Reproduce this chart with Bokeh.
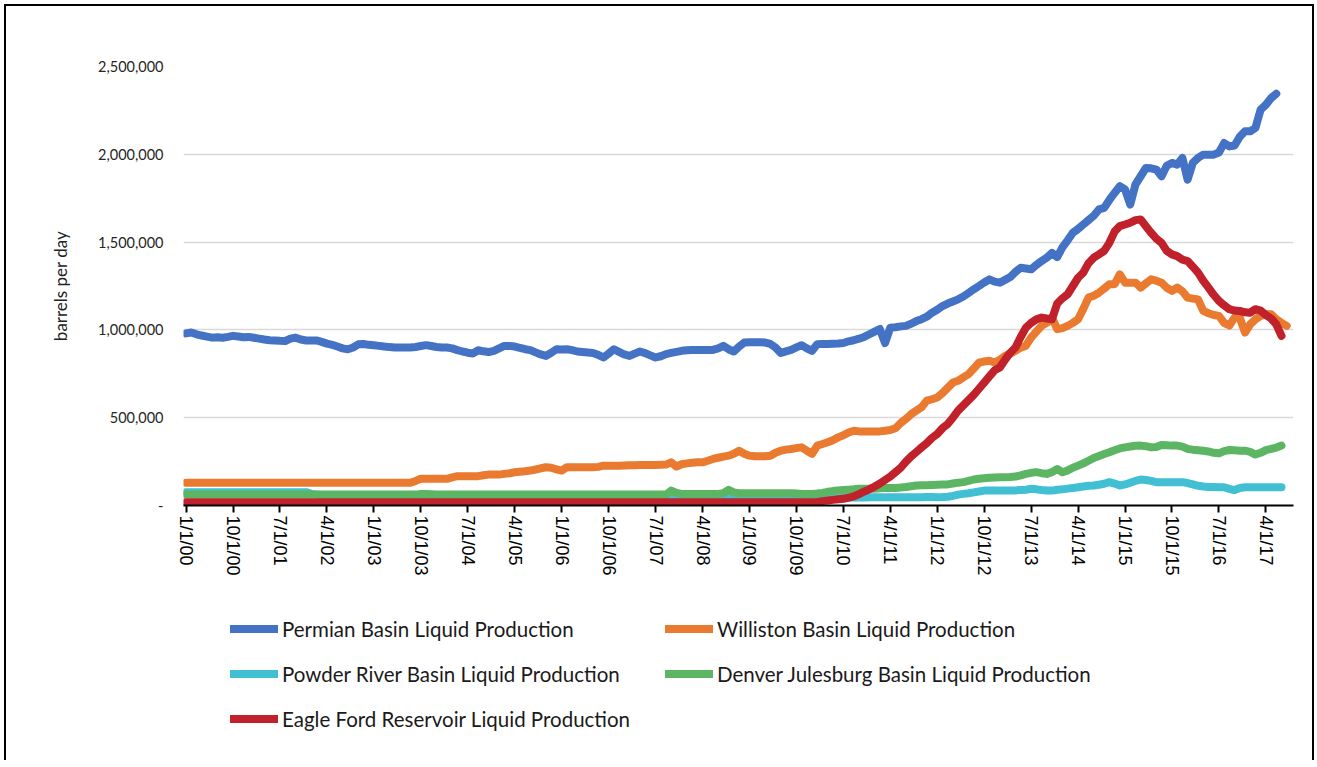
from bokeh.plotting import figure
from bokeh.layouts import column
from bokeh.models import Range1d, FixedTicker, Legend, LegendItem, NumeralTickFormatter
from bokeh.embed import file_html
from bokeh.resources import INLINE

# ---------------- data (thousand barrels per day, monthly from Jan 2000) ----------------
tick_labels = ["1/1/00", "10/1/00", "7/1/01", "4/1/02", "1/1/03", "10/1/03", "7/1/04", "4/1/05",
               "1/1/06", "10/1/06", "7/1/07", "4/1/08", "1/1/09", "10/1/09", "7/1/10", "4/1/11",
               "1/1/12", "10/1/12", "7/1/13", "4/1/14", "1/1/15", "10/1/15", "7/1/16", "4/1/17"]
tick_index = [0, 9, 18, 27, 36, 45, 54, 63, 72, 81, 90, 99, 108, 117, 126, 135,
              144, 153, 162, 171, 180, 189, 198, 207]

permian = [
    980, 985, 975, 968, 962, 956, 958, 955, 960, 966, 962, 958,
    960, 955, 950, 945, 941, 940, 938, 937, 950, 956, 945, 940,
    940, 940, 932, 922, 915, 905, 895, 890, 900, 918, 920, 915,
    912, 909, 905, 902, 900, 900, 900, 900, 903, 908, 913, 908,
    903, 900, 900, 895, 885, 877, 870, 866, 884, 878, 874, 881,
    895, 909, 909, 905, 898, 890, 885, 872, 860, 852, 870, 890,
    888, 890, 885, 877, 874, 871, 868, 858, 843, 865, 890, 875,
    860, 852, 865, 877, 868, 855, 843, 850, 862, 869, 875, 881,
    884, 886, 886, 886, 886, 886, 895, 909, 890, 877, 905, 928,
    930, 930, 930, 928, 920, 900, 869, 878, 886, 900, 913, 895,
    881, 919, 920, 920, 921, 922, 925, 935, 941, 950, 960, 975,
    990, 1005, 925, 1013, 1015, 1020, 1023, 1035, 1050, 1061, 1075, 1098,
    1115, 1136, 1150, 1162, 1174, 1190, 1210, 1231, 1250, 1270, 1288, 1275,
    1269, 1285, 1301, 1330, 1354, 1350, 1345, 1370, 1392, 1411, 1439, 1415,
    1470, 1510, 1553, 1575, 1600, 1625, 1650, 1686, 1695, 1740, 1780, 1818,
    1800, 1714, 1828, 1875, 1922, 1920, 1913, 1875, 1935, 1951, 1941, 1979,
    1856, 1951, 1980, 1998, 1998, 1998, 2010, 2064, 2045, 2050, 2100, 2131,
    2131, 2150, 2254, 2282, 2320, 2345]

williston = [
    129, 129, 129, 129, 129, 129, 129, 129, 129, 129, 129, 129,
    129, 129, 129, 129, 129, 129, 129, 129, 129, 129, 129, 129,
    129, 129, 129, 129, 129, 129, 129, 129, 129, 129, 129, 129,
    129, 129, 129, 129, 129, 129, 129, 129, 140, 152, 152, 152,
    152, 152, 152, 160, 167, 167, 167, 167, 167, 172, 176, 176,
    176, 180, 184, 189, 192, 195, 199, 205, 212, 218, 215, 206,
    199, 218, 218, 218, 218, 218, 218, 220, 227, 227, 227, 227,
    228, 229, 229, 230, 230, 231, 231, 232, 233, 246, 222, 235,
    240, 243, 246, 246, 255, 265, 272, 278, 284, 295, 312, 295,
    284, 280, 280, 280, 283, 300, 312, 318, 322, 327, 331, 312,
    294, 341, 350, 360, 372, 388, 400, 416, 426, 422, 422, 422,
    422, 422, 426, 430, 440, 470, 493, 520, 540, 560, 597, 605,
    615, 640, 670, 700, 710, 730, 748, 780, 814, 820, 824, 814,
    830, 852, 865, 881, 899, 910, 956, 990, 1023, 1040, 1070, 1004,
    1010, 1023, 1040, 1061, 1120, 1184, 1195, 1212, 1235, 1260, 1260, 1316,
    1269, 1269, 1269, 1241, 1265, 1288, 1280, 1269, 1240, 1222, 1241, 1220,
    1184, 1178, 1174, 1108, 1095, 1085, 1080, 1040, 1025, 1070, 1070, 985,
    1032, 1060, 1080, 1089, 1089, 1061, 1040, 1023]

powder_river = [
    76, 76, 76, 76, 76, 76, 76, 76, 76, 76, 76, 76,
    76, 76, 76, 76, 76, 76, 76, 76, 76, 76, 76, 76,
    66, 62, 60, 60, 60, 60, 60, 60, 60, 60, 60, 60,
    60, 60, 60, 60, 60, 60, 60, 60, 60, 60, 60, 60,
    60, 60, 60, 60, 60, 60, 60, 60, 60, 60, 60, 60,
    60, 60, 60, 60, 60, 60, 60, 60, 60, 60, 60, 60,
    60, 60, 60, 60, 60, 60, 60, 60, 60, 60, 60, 60,
    60, 60, 60, 60, 60, 60, 60, 60, 60, 60, 60, 60,
    60, 60, 60, 60, 60, 60, 60, 60, 60, 60, 60, 60,
    60, 60, 58, 56, 55, 55, 55, 54, 52, 50, 48, 45,
    42, 40, 40, 40, 40, 42, 43, 44, 45, 45, 46, 47,
    47, 47, 47, 47, 47, 47, 47, 47, 47, 47, 48, 48,
    47, 48, 50, 55, 62, 66, 70, 75, 80, 85, 85, 85,
    85, 85, 85, 86, 88, 90, 95, 92, 88, 85, 85, 90,
    92, 96, 100, 104, 108, 112, 114, 118, 124, 133, 125, 114,
    120, 130, 140, 148, 145, 140, 133, 133, 133, 133, 133, 133,
    128, 120, 112, 108, 106, 105, 104, 104, 95, 88, 100, 104,
    104, 104, 104, 104, 104, 104, 104]

denver_julesburg = [
    62, 62, 62, 62, 62, 62, 62, 62, 62, 62, 62, 62,
    62, 62, 62, 62, 62, 62, 62, 62, 62, 62, 62, 62,
    62, 62, 62, 62, 62, 62, 62, 62, 62, 62, 62, 62,
    62, 62, 62, 62, 62, 62, 62, 62, 62, 65, 66, 64,
    62, 62, 62, 62, 62, 62, 62, 62, 62, 62, 62, 62,
    62, 62, 62, 62, 62, 62, 62, 62, 62, 62, 62, 62,
    62, 62, 62, 62, 62, 62, 62, 62, 62, 62, 62, 62,
    62, 62, 62, 62, 62, 62, 62, 62, 62, 85, 72, 66,
    66, 66, 66, 66, 66, 66, 66, 70, 89, 75, 70, 70,
    70, 70, 70, 70, 70, 70, 70, 70, 70, 68, 66, 66,
    66, 68, 72, 78, 82, 85, 88, 90, 92, 95, 95, 95,
    96, 98, 100, 100, 100, 102, 105, 110, 114, 115, 116, 117,
    118, 119, 120, 125, 130, 133, 140, 148, 152, 155, 158, 160,
    161, 161, 162, 165, 172, 180, 186, 190, 184, 180, 190, 208,
    189, 200, 215, 227, 240, 255, 271, 282, 293, 303, 315, 325,
    331, 336, 340, 341, 338, 331, 333, 345, 343, 341, 341, 335,
    322, 318, 315, 312, 308, 300, 297, 310, 316, 314, 312, 312,
    305, 290, 300, 315, 322, 330, 341]

eagle_ford = [
    18, 18, 18, 18, 18, 18, 18, 18, 18, 18, 18, 18,
    18, 18, 18, 18, 18, 18, 18, 18, 18, 18, 18, 18,
    18, 18, 18, 18, 18, 18, 18, 18, 18, 18, 18, 18,
    18, 18, 18, 18, 18, 18, 18, 18, 18, 18, 18, 18,
    18, 18, 18, 18, 18, 18, 18, 18, 18, 18, 18, 18,
    18, 18, 18, 18, 18, 18, 18, 18, 18, 18, 18, 18,
    18, 18, 18, 18, 18, 18, 18, 18, 18, 18, 18, 18,
    18, 18, 18, 18, 18, 18, 18, 18, 18, 18, 18, 18,
    18, 18, 18, 18, 18, 18, 18, 18, 18, 18, 18, 18,
    18, 18, 18, 18, 18, 18, 18, 18, 18, 18, 18, 18,
    18, 20, 25, 28, 32, 35, 38, 45, 52, 65, 80, 92,
    108, 125, 145, 165, 190, 215, 250, 280, 305, 331, 355, 385,
    407, 440, 464, 500, 540, 570, 600, 630, 665, 700, 735, 770,
    786, 830, 870, 900, 960, 1013, 1040, 1060, 1070, 1065, 1061, 1150,
    1180, 1203, 1250, 1297, 1326, 1380, 1411, 1430, 1450, 1496, 1560, 1591,
    1600, 1610, 1625, 1629, 1590, 1553, 1520, 1496, 1450, 1430, 1420, 1400,
    1392, 1360, 1326, 1280, 1241, 1200, 1165, 1140, 1118, 1110, 1108, 1100,
    1098, 1118, 1110, 1085, 1065, 1032, 966]

series_names = ["Permian Basin Liquid Production",
                "Williston Basin Liquid Production",
                "Powder River Basin Liquid Production",
                "Denver Julesburg Basin Liquid Production",
                "Eagle Ford Reservoir Liquid Production"]
series_values = [permian, williston, powder_river, denver_julesburg, eagle_ford]
series_colors = ["#4472C4", "#E97A30", "#41BFD3", "#5CB563", "#C0212A"]

y_ticks = [0, 500000, 1000000, 1500000, 2000000, 2500000]

# ---------------- main chart ----------------
p = figure(width=1306, height=584, output_backend="svg", toolbar_location=None,
           x_range=Range1d(-0.5, 212.3), y_range=Range1d(0, 2500000),
           min_border_left=177, min_border_right=19, min_border_top=60, min_border_bottom=85)
p.outline_line_color = None
p.background_fill_color = "white"
p.border_fill_color = "white"

for name, vals, col in zip(series_names, series_values, series_colors):
    xs = list(range(len(vals)))
    ys = [v * 1000 for v in vals]
    p.line(xs, ys, line_color=col, line_width=8, line_cap="round", line_join="round")

xa = p.xaxis[0]
xa.ticker = FixedTicker(ticks=tick_index)
xa.major_label_overrides = {i: lab for i, lab in zip(tick_index, tick_labels)}
xa.major_label_orientation = "vertical"
xa.major_label_text_font = "Liberation Sans"
xa.major_label_text_font_size = "18px"
xa.major_label_text_color = "black"
xa.major_label_standoff = 3
xa.axis_line_color = "black"
xa.axis_line_width = 2
xa.major_tick_line_color = "black"
xa.major_tick_line_width = 2
xa.major_tick_out = 7
xa.major_tick_in = 0
xa.minor_tick_line_color = None

ya = p.yaxis[0]
ya.ticker = FixedTicker(ticks=y_ticks)
ya.formatter = NumeralTickFormatter(format="0,0")
ya.major_label_overrides = {0: "-"}
ya.major_label_text_font = "Lato"
ya.major_label_text_font_size = "14.5px"
ya.major_label_text_color = "#262626"
ya.major_label_standoff = 20
ya.major_tick_out = 0
ya.major_tick_in = 0
ya.axis_line_color = None
ya.major_tick_line_color = None
ya.minor_tick_line_color = None
ya.axis_label = "barrels per day"
ya.axis_label_text_font = "Lato"
ya.axis_label_text_font_size = "17px"
ya.axis_label_text_font_style = "normal"
ya.axis_label_text_color = "#222222"
ya.axis_label_standoff = 24

p.xgrid.grid_line_color = None
p.ygrid.grid_line_color = "#D9D9D9"
p.ygrid.grid_line_width = 1.5

# ---------------- legend strip (hidden copies of the series provide the legend glyphs) ----------------
lg = figure(width=1306, height=170, output_backend="svg", toolbar_location=None,
            x_axis_type=None, y_axis_type=None, min_border=0,
            x_range=Range1d(-0.5, 212.3), y_range=Range1d(0, 2500000))
lg.outline_line_color = None
lg.grid.grid_line_color = None
lg.background_fill_color = "white"
lg.border_fill_color = "white"

items = []
for name, vals, col in zip(series_names, series_values, series_colors):
    xs = list(range(len(vals)))
    ys = [v * 1000 for v in vals]
    r = lg.line(xs, ys, line_color=col, line_width=8, line_cap="round", visible=False)
    items.append(LegendItem(label=name, renderers=[r]))

legend = Legend(items=items, orientation="horizontal", ncols=2, location=(47, 29),
                label_text_font="Lato", label_text_font_size="20.5px", label_text_color="#1a1a1a",
                glyph_width=48, glyph_height=25, label_height=25, label_standoff=4,
                label_width=363, spacing=20, padding=0, margin=0,
                border_line_color=None, background_fill_alpha=0)
lg.add_layout(legend, "center")

layout = column(p, lg, spacing=0)
layout.styles = {"border-left": "2px solid black", "border-top": "2px solid black",
                 "border-right": "2px solid black", "margin-left": "4px", "margin-top": "4px"}

open("out.html", "w").write(file_html(layout, INLINE))
